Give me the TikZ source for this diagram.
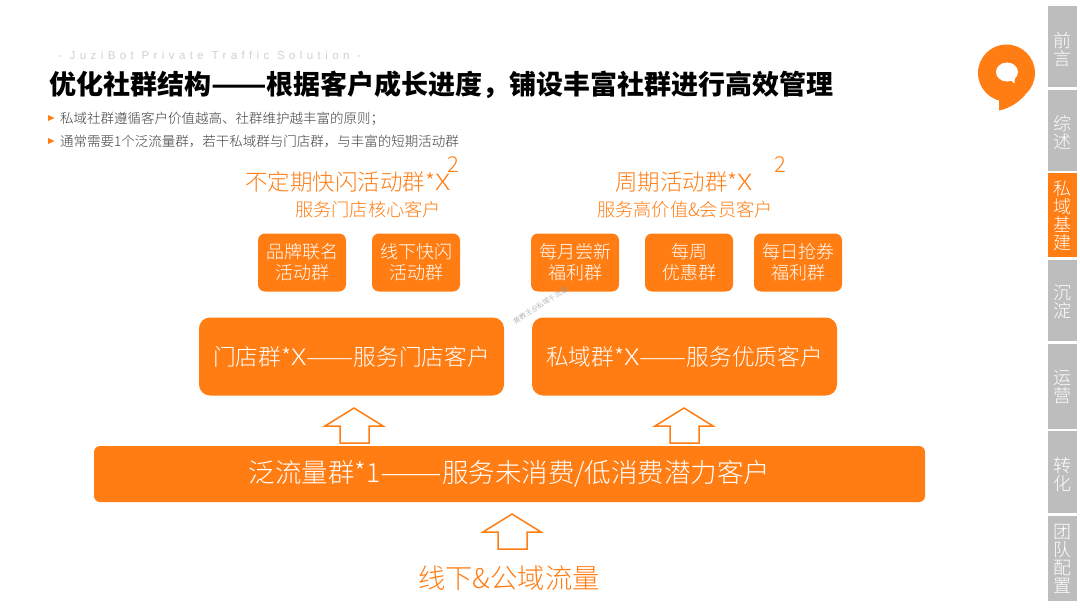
\documentclass[tikz,border=0pt]{standalone}
\usepackage{fontspec}
\setmainfont{Noto Sans CJK SC}
\newfontfamily\lightfont{Noto Sans CJK SC Light}
\newfontfamily\subfont[LetterSpace=38.5]{Liberation Sans}
\definecolor{org}{HTML}{FF7D13}
\definecolor{tabgray}{HTML}{BDBDBD}
\newcommand{\fs}[1]{\fontsize{#1}{#1}\selectfont}
\newcommand{\fsl}[2]{\fontsize{#1}{#2}\selectfont}
\newcommand{\dd}[1]{\scalebox{#1}[1]{——}}
\newcommand{\wideX}{\scalebox{1.25}[1]{X}}
\tikzset{
 tab/.style={fill=tabgray,draw=none,minimum width=29pt,anchor=north west,inner sep=0pt,text=white},
 tabon/.style={tab,fill=org},
 tabtext/.style={text=white,font=\lightfont\fsl{18}{18},align=center,inner sep=0pt},
 smallbox/.style={fill=org,rounded corners=7pt,minimum width=88pt,minimum height=58pt,inner sep=0pt,text=white,align=center,font=\lightfont\fsl{18}{21}},
 bigbox/.style={fill=org,rounded corners=11pt,inner sep=0pt,text=white,minimum height=78pt,minimum width=305pt,font=\lightfont\fs{22.7}},
 uparrow/.style={draw=org,line width=1.5pt,fill=white,line join=miter},
 head/.style={text=org,inner sep=0pt,anchor=west},
 bullet/.style={anchor=west,inner sep=0pt,text=black!75,font=\lightfont\fs{13.5}},
}
\begin{document}
\begin{tikzpicture}[x=1pt,y=-1pt,every node/.style={font=\lightfont}]
\useasboundingbox[fill=white] (0,0) rectangle (1080,608);
% header
\node[anchor=west,inner sep=0pt,text=black!18,font=\subfont\fs{11.5}] (sub) at (58,55) {- JuziBot Private Traffic Solution -};
\node[anchor=west,inner sep=0pt,font=\fs{27}\bfseries] (title) at (49,85) {优化社群结构\dd{1.2}根据客户成长进度，铺设丰富社群进行高效管理};
\node[bullet] (b1) at (60,118.5) {私域社群遵循客户价值越高、社群维护越丰富的原则；};
\node[bullet] (b2) at (60,141.5) {通常需要1个泛流量群，若干私域群与门店群，与丰富的短期活动群};
\fill[org] (48,115) -- (54.5,118) -- (48,121) -- cycle;
\fill[org] (48,138) -- (54.5,141) -- (48,144) -- cycle;
% logo
\fill[org] (1006.5,73) circle (28.5);
\fill[org] (999,90) -- (999,110.5) .. controls (1008,108.5) and (1017,104) .. (1025,95) -- cycle;
\fill[white] (1007,72) ellipse (11 and 9.5);
\fill[white] (1008,78) -- (1014.5,83.5) -- (1015,76) -- cycle;
% tabs
\node[tab,minimum height=81pt] (t1) at (1048,6) {};
\node[tabtext] at ([yshift=-2.5pt]t1.center) {前\\言};
\node[tab,minimum height=81pt] (t2) at (1048,90) {};
\node[tabtext] at ([yshift=-1.5pt]t2.center) {综\\述};
\node[tabon,minimum height=84pt] (t3) at (1048,173) {};
\node[tabtext] at ([yshift=-1pt]t3.center) {私\\域\\基\\建};
\node[tab,minimum height=81pt] (t4) at (1048,260) {};
\node[tabtext] at ([yshift=-1.5pt]t4.center) {沉\\淀};
\node[tab,minimum height=85pt] (t5) at (1048,344) {};
\node[tabtext] at ([yshift=-0.5pt]t5.center) {运\\营};
\node[tab,minimum height=82pt] (t6) at (1048,431) {};
\node[tabtext] at ([yshift=-2pt]t6.center) {转\\化};
\node[tab,minimum height=85pt] (t7) at (1048,516) {};
\node[tabtext] at (t7.center) {团\\队\\配\\置};
% group headings
\node[head,font=\lightfont\fs{22.5}] (h1) at (245,182) {不定期快闪活动群*\wideX};
\node[head,font=\lightfont\fs{22}] (h1s) at (447,165) {2};
\node[head,font=\lightfont\fs{18.2}] (h1b) at (295,209.5) {服务门店核心客户};
\node[head,font=\lightfont\fs{22.5}] (h2) at (615,182) {周期活动群*\wideX};
\node[head,font=\lightfont\fs{22}] (h2s) at (774,165) {2};
\node[head,font=\lightfont\fs{18.2}] (h2b) at (597,209.5) {服务高价值\&会员客户};
% small boxes
\node[smallbox] (s1) at (302,262.5) {品牌联名\\活动群};
\node[smallbox] (s2) at (416,262.5) {线下快闪\\活动群};
\node[smallbox] (s3) at (575,262.5) {每月尝新\\福利群};
\node[smallbox] (s4) at (689,262.5) {每周\\优惠群};
\node[smallbox] (s5) at (798,262.5) {每日抢券\\福利群};
% big boxes
\node[bigbox] (g1) at (351.5,356.5) {门店群*\wideX\dd{1.25}服务门店客户};
\node[bigbox] (g2) at (684.5,356.5) {私域群*\wideX\dd{1.25}服务优质客户};
\node[fill=org,rounded corners=6pt,minimum width=831pt,minimum height=56pt,inner sep=0pt,text=white,font=\lightfont\fs{26.5}] (g3) at (509.5,474) {\raisebox{-1.5pt}{泛流量群*1\dd{1.4}服务未消费/低消费潜力客户}};
% arrows
\draw[uparrow] (354,408) -- (383,426) -- (369,426) -- (369,443) -- (340,443) -- (340,426) -- (325,426) -- cycle;
\draw[uparrow] (684,408) -- (713,426) -- (699,426) -- (699,443) -- (670,443) -- (670,426) -- (655,426) -- cycle;
\draw[uparrow] (512,514) -- (541,532) -- (527,532) -- (527,549) -- (498,549) -- (498,532) -- (483,532) -- cycle;
\node[head,font=\lightfont\fs{27.3}] (src) at (418,578) {线下\&公域流量};
% watermark
\node[text=black!40,rotate=32,font=\lightfont\fs{7},inner sep=0pt] (wm) at (540.5,305.5) {黄教主@私域千流量};
\end{tikzpicture}
\end{document}
